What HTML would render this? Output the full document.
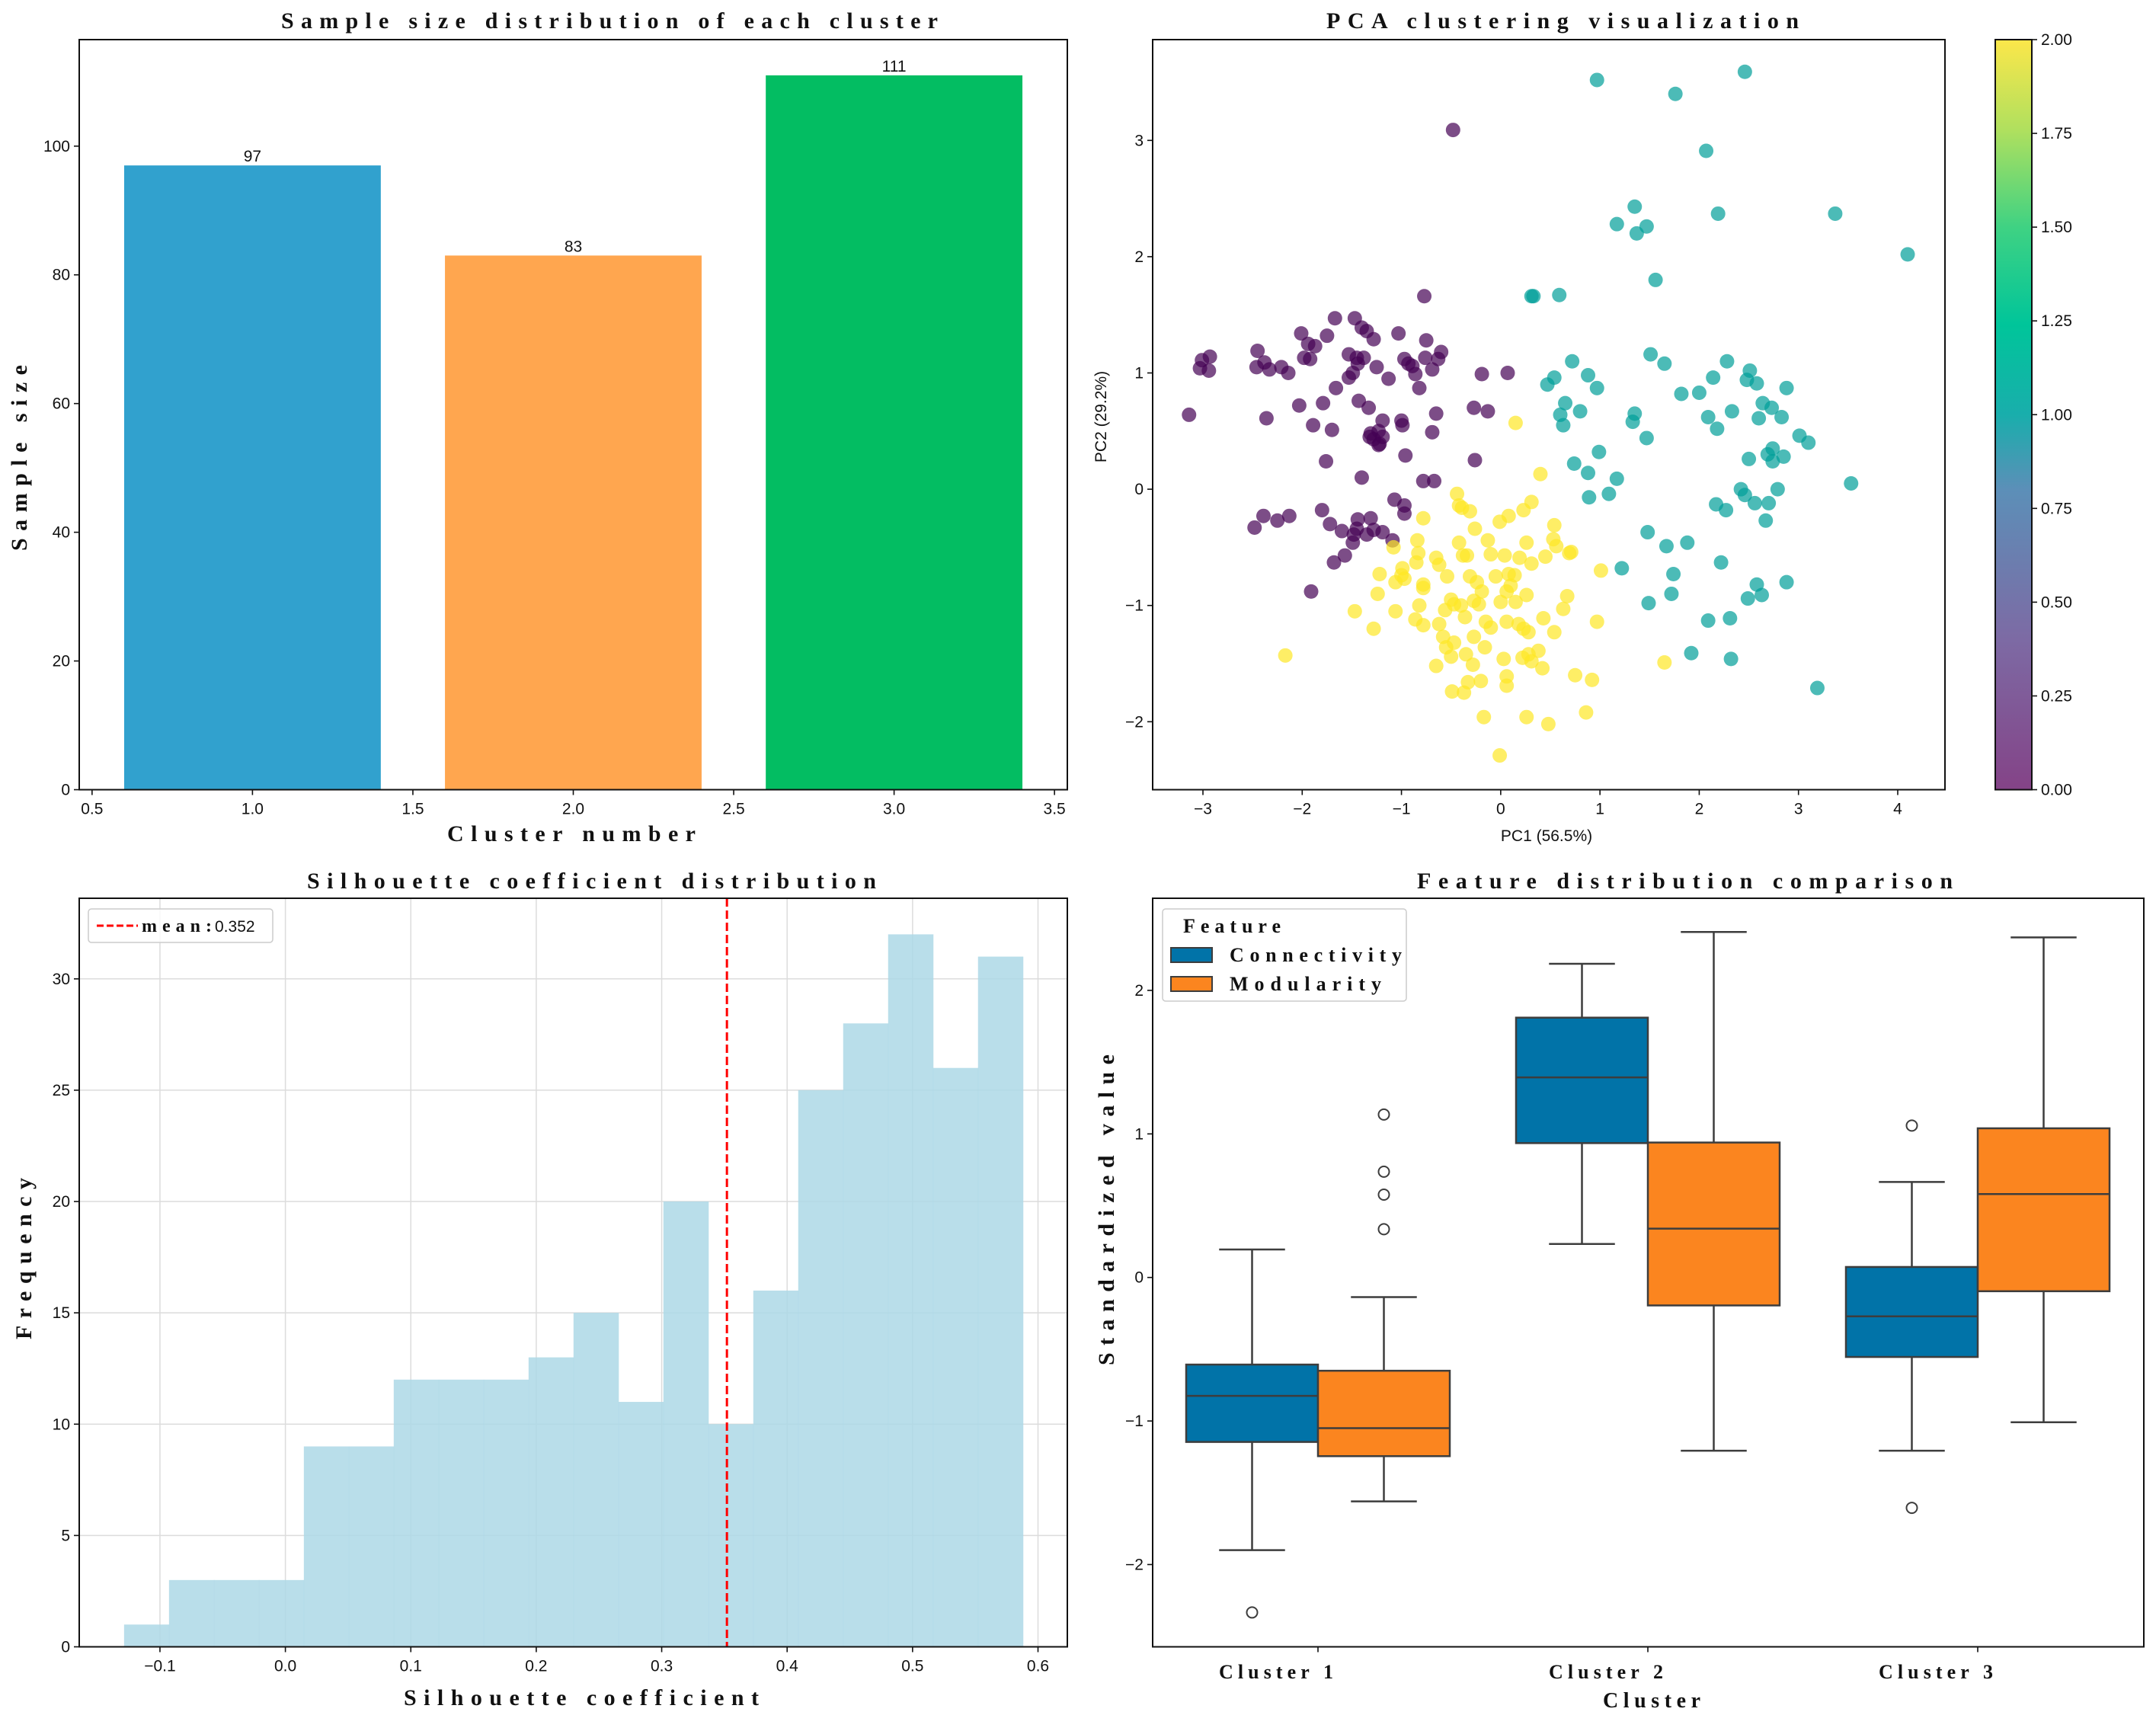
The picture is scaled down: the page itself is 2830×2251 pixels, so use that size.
<!DOCTYPE html>
<html><head><meta charset="utf-8"><style>
html,body{margin:0;padding:0;background:#fff}
svg{display:block;font-family:"Liberation Sans","Noto Sans CJK SC",sans-serif}
.tick{font-size:21px;fill:#111}
.ttl{font-family:"Liberation Serif",serif;font-weight:bold;font-size:30px;fill:#111}
.lbl{font-family:"Liberation Serif",serif;font-weight:bold;font-size:30px;fill:#111}
</style></head><body>
<svg id="fig" width="2830" height="2251" viewBox="0 0 2830 2251" xmlns="http://www.w3.org/2000/svg"></svg>
<script>
// ---------- Panel 1 data ----------
const barCats = [1, 2, 3];
const barVals = [97, 83, 111];
const barColors = ['#31a1ce', '#ffa64f', '#03bd62'];
const p1XTicks = [0.5, 1.0, 1.5, 2.0, 2.5, 3.0, 3.5];
const p1YTicks = [0, 20, 40, 60, 80, 100];
// ---------- Panel 2 data ----------
const c0x = [-0.48,-0.77,-1.67,-1.47,-1.40,-1.35,-1.28,-1.03,-2.01,-1.75,-1.94,-1.87,-2.45,-2.93,-3.01,-3.03,-2.94,-2.38,-2.33,-2.46,-2.21,-2.14,-1.98,-1.92,-1.53,-1.45,-1.38,-1.44,-1.49,-1.53,-1.25,-1.13,-0.97,-0.93,-0.89,-0.86,-0.75,-0.76,-0.69,-0.63,-0.60,-0.82,-1.66,-2.03,-1.79,-1.43,-1.33,-3.14,-2.36,-1.89,-1.70,-1.31,-1.19,-1.23,-1.00,-0.99,-0.65,-0.69,-0.27,-0.13,-0.19,0.07,-0.96,-1.76,-1.40,-0.78,-0.67,-0.26,-1.32,-1.28,-1.22,-1.23,-1.19,-1.07,-0.97,-0.97,-1.80,-1.72,-2.39,-2.25,-2.13,-2.48,-1.60,-1.44,-1.31,-1.45,-1.48,-1.49,-1.35,-1.28,-1.19,-1.09,-1.57,-1.68,-1.91];
const c0y = [3.09,1.66,1.47,1.47,1.39,1.36,1.29,1.34,1.34,1.32,1.25,1.23,1.19,1.14,1.11,1.04,1.02,1.09,1.03,1.05,1.05,1.00,1.13,1.12,1.16,1.13,1.13,1.08,1.00,0.96,1.05,0.95,1.12,1.08,1.06,0.99,1.28,1.13,1.03,1.12,1.18,0.87,0.87,0.72,0.74,0.76,0.70,0.64,0.61,0.55,0.51,0.48,0.59,0.50,0.59,0.55,0.65,0.49,0.70,0.67,0.99,1.00,0.29,0.24,0.10,0.07,0.07,0.25,0.45,0.43,0.39,0.38,0.45,-0.09,-0.14,-0.21,-0.18,-0.30,-0.23,-0.27,-0.23,-0.33,-0.36,-0.26,-0.25,-0.34,-0.39,-0.46,-0.39,-0.35,-0.37,-0.44,-0.57,-0.63,-0.88];
const c1x = [0.97,2.46,1.76,2.07,1.35,1.17,1.37,1.47,2.19,3.37,4.10,1.56,0.33,0.31,0.59,1.51,1.65,2.28,0.72,0.54,0.47,0.88,0.97,2.14,2.51,2.48,2.58,2.88,1.82,2.00,0.65,0.60,0.63,0.80,1.35,1.33,2.09,2.18,2.33,2.64,2.73,2.60,2.83,1.47,3.01,3.10,2.50,2.69,2.74,2.74,2.85,0.99,0.74,0.88,1.17,0.89,1.09,3.53,2.42,2.46,2.79,2.56,2.70,2.17,2.27,2.67,1.48,1.67,1.88,2.22,1.22,1.74,1.72,1.49,2.49,2.63,2.58,2.88,2.09,2.31,1.92,2.32,3.19];
const c1y = [3.52,3.59,3.40,2.91,2.43,2.28,2.20,2.26,2.37,2.37,2.02,1.80,1.66,1.66,1.67,1.16,1.08,1.10,1.10,0.96,0.90,0.98,0.87,0.96,1.02,0.94,0.91,0.87,0.82,0.83,0.74,0.64,0.55,0.67,0.65,0.58,0.62,0.52,0.67,0.74,0.70,0.61,0.62,0.44,0.46,0.40,0.26,0.30,0.35,0.24,0.28,0.32,0.22,0.14,0.09,-0.07,-0.04,0.05,0.00,-0.05,0.00,-0.12,-0.12,-0.13,-0.18,-0.27,-0.37,-0.49,-0.46,-0.63,-0.68,-0.73,-0.90,-0.98,-0.94,-0.91,-0.82,-0.80,-1.13,-1.11,-1.41,-1.46,-1.71];
const c2x = [0.15,0.40,-0.44,-0.42,-0.39,-0.31,0.31,0.23,0.08,-0.01,-0.78,-0.26,0.54,-0.13,-0.42,-0.38,-0.34,0.26,0.53,0.56,0.71,0.69,0.04,0.19,0.31,0.45,-1.08,-0.84,-0.83,-0.85,-1.22,-0.99,-1.00,-1.06,-0.97,-0.78,-0.78,-0.65,-0.62,-0.54,-0.31,-0.24,0.08,0.14,0.10,0.06,-0.19,-0.22,1.01,-1.24,-1.47,-1.06,-0.82,-0.86,-0.78,-0.62,-0.56,-0.50,-0.47,-0.40,-0.27,0.00,0.15,0.26,0.67,0.63,0.43,0.97,-1.28,-0.15,-0.10,0.06,0.18,0.23,0.28,-0.27,0.54,-2.17,-0.55,-0.47,-0.50,-0.35,-0.28,-0.16,0.03,0.22,0.28,0.31,0.38,0.42,-0.65,0.06,0.06,-0.20,-0.33,-0.49,-0.37,0.75,0.92,-0.17,0.26,0.48,0.86,-0.01,1.65,-0.10,-0.05,-0.36,-0.58];
const c2y = [0.57,0.13,-0.04,-0.14,-0.16,-0.19,-0.11,-0.18,-0.23,-0.28,-0.25,-0.34,-0.31,-0.44,-0.46,-0.57,-0.57,-0.46,-0.43,-0.49,-0.54,-0.55,-0.57,-0.59,-0.64,-0.58,-0.50,-0.44,-0.55,-0.63,-0.73,-0.68,-0.74,-0.80,-0.77,-0.82,-0.85,-0.59,-0.65,-0.75,-0.75,-0.80,-0.73,-0.74,-0.83,-0.88,-0.88,-0.99,-0.70,-0.90,-1.05,-1.05,-1.00,-1.12,-1.17,-1.16,-1.04,-0.95,-0.99,-1.00,-0.96,-0.97,-0.97,-0.91,-0.92,-1.03,-1.11,-1.14,-1.20,-1.14,-1.19,-1.14,-1.16,-1.20,-1.23,-1.27,-1.23,-1.43,-1.36,-1.32,-1.44,-1.42,-1.51,-1.36,-1.46,-1.45,-1.42,-1.48,-1.39,-1.54,-1.52,-1.61,-1.69,-1.65,-1.66,-1.74,-1.75,-1.60,-1.64,-1.96,-1.96,-2.02,-1.92,-2.29,-1.49,-0.56,-0.75,-1.10,-1.27];
const p2XTicks = [-3,-2,-1,0,1,2,3,4];
const p2YTicks = [-2,-1,0,1,2,3];
const cbTicks = [0,0.25,0.5,0.75,1,1.25,1.5,1.75,2];
const cbLabels = ['0.00','0.25','0.50','0.75','1.00','1.25','1.50','1.75','2.00'];
// ---------- Panel 3 data ----------
const histStart = -0.1286;
const histBinWidth = 0.03583;
const histCounts = [1,3,3,3,9,9,12,12,12,13,15,11,20,10,16,25,28,32,26,31];
const meanVal = 0.352;
const p3XTicks = [-0.1,0.0,0.1,0.2,0.3,0.4,0.5,0.6];
const p3XLabels = ['\u22120.1','0.0','0.1','0.2','0.3','0.4','0.5','0.6'];
const p3YTicks = [0,5,10,15,20,25,30];
// ---------- Panel 4 data ----------
const boxCats = ['Cluster 1','Cluster 2','Cluster 3'];
const connStats = [[-1.90,-1.146,-0.825,-0.607,0.195],[0.233,0.936,1.394,1.81,2.185],[-1.207,-0.554,-0.271,0.073,0.665]];
const modStats = [[-1.56,-1.245,-1.05,-0.65,-0.137],[-1.207,-0.195,0.34,0.94,2.407],[-1.009,-0.096,0.581,1.039,2.369]];
const connOutliers = [[-2.334],[],[1.058,-1.605]];
const modOutliers = [[1.135,0.737,0.577,0.336],[],[]];
const p4YTicks = [-2,-1,0,1,2];
const p4YLabels = ['\u22122','\u22121','0','1','2'];

const NS='http://www.w3.org/2000/svg';
const svg=document.getElementById('fig');
function mk(tag,attrs,parent){const e=document.createElementNS(NS,tag);for(const k in attrs)e.setAttribute(k,attrs[k]);(parent||svg).appendChild(e);return e;}
function txt(s,attrs,parent){const e=mk('text',attrs,parent);e.textContent=s;return e;}
function lin(d0,d1,r0,r1){return v=>r0+(v-d0)*(r1-r0)/(d1-d0);}
function fmtMinus(v){return String(v).replace('-','\u2212');}

// ================= PANEL 1 =================
(function(){
  const L=104,R=1401,T=52,B=1036.5;
  const g=mk('g',{});
  
  
  const x=lin(0.46,3.54,L,R), y=lin(0,116.55,B,T);
  barVals.forEach((v,i)=>{
    const r=mk('rect',{x:x(barCats[i]-0.4),y:y(v),width:x(barCats[i]+0.4)-x(barCats[i]-0.4),height:y(0)-y(v),fill:barColors[i]},g);
    
    
    const t=txt(String(v),{x:x(barCats[i]),y:y(v)-5,'text-anchor':'middle',class:'tick'},g);
    
    
  });
  p1XTicks.forEach(v=>{mk('line',{x1:x(v),x2:x(v),y1:B,y2:B+7,stroke:'#111','stroke-width':1.6},g);
    const t=txt(v.toFixed(1),{x:x(v),y:B+32,'text-anchor':'middle',class:'tick'},g);
    });
  p1YTicks.forEach(v=>{mk('line',{x1:L-7,x2:L,y1:y(v),y2:y(v),stroke:'#111','stroke-width':1.6},g);
    const t=txt(String(v),{x:L-12,y:y(v)+7,'text-anchor':'end',class:'tick'},g);
    });
  const fr=mk('rect',{x:L,y:T,width:R-L,height:B-T,fill:'none',stroke:'#111','stroke-width':2},g);
  
  const tt=txt('Sample size distribution of each cluster',{x:369,y:37,class:'ttl',textLength:862,lengthAdjust:'spacing'},g);
  
  const xl=txt('Cluster number',{x:587,y:1104,class:'lbl',textLength:326,lengthAdjust:'spacing'},g);
  
  const yl=txt('Sample size',{x:0,y:0,class:'lbl',textLength:244,lengthAdjust:'spacing',transform:'translate(35,723) rotate(-90)'},g);
  
})();

// ================= PANEL 2 =================
(function(){
  const L=1513,R=2553,T=52,B=1036.5;
  const g=mk('g',{});
  
  
  const x=lin(-3,4,1579,2491), y=lin(-2,3,947.3,184.3);
  const sets=[[c0x,c0y,'#440154'],[c1x,c1y,'#009e98'],[c2x,c2y,'#fde725']];
  sets.forEach((s,k)=>{
    s[0].forEach((vx,i)=>{
      const c=mk('circle',{cx:x(vx),cy:y(s[1][i]),r:9.5,fill:s[2],'fill-opacity':0.7},g);
      
      
    });
  });
  p2XTicks.forEach(v=>{mk('line',{x1:x(v),x2:x(v),y1:B,y2:B+7,stroke:'#111','stroke-width':1.6},g);
    const t=txt(fmtMinus(v),{x:x(v),y:B+32,'text-anchor':'middle',class:'tick'},g);
    });
  p2YTicks.forEach(v=>{mk('line',{x1:L-7,x2:L,y1:y(v),y2:y(v),stroke:'#111','stroke-width':1.6},g);
    const t=txt(fmtMinus(v),{x:L-12,y:y(v)+7,'text-anchor':'end',class:'tick'},g);
    });
  const fr=mk('rect',{x:L,y:T,width:R-L,height:B-T,fill:'none',stroke:'#111','stroke-width':2},g);
  
  const tt=txt('PCA clustering visualization',{x:1741,y:37,class:'ttl',textLength:620,lengthAdjust:'spacing'},g);
  
  const xl=txt('PC1 (56.5%)',{x:2030,y:1104,'text-anchor':'middle',class:'tick'},g);
  
  const yl=txt('PC2 (29.2%)',{x:0,y:0,'text-anchor':'middle',class:'tick',transform:'translate(1452,547) rotate(-90)'},g);
  
  const defs=mk('defs',{},g);
  const lg=mk('linearGradient',{id:'cbg',x1:0,y1:1,x2:0,y2:0},defs);
  [['0','#844387'],['0.2','#7d6aa4'],['0.4','#5c8fb8'],['0.5','#19aeac'],['0.62','#00c59a'],['0.75','#3fd283'],['0.88','#b0e05e'],['1','#fce74a']].forEach(s=>mk('stop',{offset:s[0],'stop-color':s[1]},lg));
  const cL=2619,cR=2667;
  const cb=mk('rect',{x:cL,y:T,width:cR-cL,height:B-T,fill:'url(#cbg)',stroke:'#111','stroke-width':2},g);
  
  const cy=lin(0,2,B,T);
  cbTicks.forEach((v,i)=>{mk('line',{x1:cR,x2:cR+7,y1:cy(v),y2:cy(v),stroke:'#111','stroke-width':1.6},g);
    const t=txt(cbLabels[i],{x:cR+12,y:cy(v)+7,class:'tick'},g);
    });
})();

// ================= PANEL 3 =================
(function(){
  const L=104,R=1401,T=1179,B=2161.5;
  const g=mk('g',{});
  
  
  const x=lin(0,0.6,374.6,1362.5), y=lin(0,30,B,1284.8);
  p3XTicks.forEach(v=>mk('line',{x1:x(v),x2:x(v),y1:T,y2:B,stroke:'#dcdcdc','stroke-width':1.5},g));
  p3YTicks.forEach(v=>mk('line',{x1:L,x2:R,y1:y(v),y2:y(v),stroke:'#dcdcdc','stroke-width':1.5},g));
  histCounts.forEach((c,i)=>{
    const x0=histStart+i*histBinWidth;
    const r=mk('rect',{x:x(x0),y:y(c),width:x(x0+histBinWidth)-x(x0)+0.5,height:y(0)-y(c),fill:'#add8e6','fill-opacity':0.85},g);
    
    
  });
  const ml=mk('line',{x1:x(meanVal),x2:x(meanVal),y1:T,y2:B,stroke:'#ff0000','stroke-width':3,'stroke-dasharray':'11,5'},g);
  
  p3XTicks.forEach((v,i)=>{mk('line',{x1:x(v),x2:x(v),y1:B,y2:B+7,stroke:'#111','stroke-width':1.6},g);
    const t=txt(p3XLabels[i],{x:x(v),y:B+32,'text-anchor':'middle',class:'tick'},g);
    });
  p3YTicks.forEach(v=>{mk('line',{x1:L-7,x2:L,y1:y(v),y2:y(v),stroke:'#111','stroke-width':1.6},g);
    const t=txt(String(v),{x:L-12,y:y(v)+7,'text-anchor':'end',class:'tick'},g);
    });
  const fr=mk('rect',{x:L,y:T,width:R-L,height:B-T,fill:'none',stroke:'#111','stroke-width':2},g);
  
  const leg=mk('g',{},g);
  
  mk('rect',{x:116,y:1193,width:242,height:44,rx:4,fill:'#fff','fill-opacity':0.8,stroke:'#ccc','stroke-width':1.5},leg);
  mk('line',{x1:127,x2:181,y1:1215,y2:1215,stroke:'#ff0000','stroke-width':3,'stroke-dasharray':'9,4'},leg);
  txt('mean:',{x:186,y:1223,class:'lbl',style:'font-size:24px',textLength:92,lengthAdjust:'spacing'},leg);
  txt('0.352',{x:282,y:1223,class:'tick'},leg);
  const tt=txt('Silhouette coefficient distribution',{x:403,y:1166,class:'ttl',textLength:747,lengthAdjust:'spacing'},g);
  
  const xl=txt('Silhouette coefficient',{x:530,y:2238,class:'lbl',textLength:466,lengthAdjust:'spacing'},g);
  
  const yl=txt('Frequency',{x:0,y:0,class:'lbl',textLength:212,lengthAdjust:'spacing',transform:'translate(41,1758) rotate(-90)'},g);
  
})();

// ================= PANEL 4 =================
(function(){
  const L=1513,R=2814,T=1179,B=2161.5;
  const g=mk('g',{});
  
  
  const y=lin(-2,2,2053.5,1299.9);
  const cx=i=>1730+i*433;
  const bw=173;
  function drawBox(st,xc,color,name){
    const bg=mk('g',{},g);
    
    
    const s={stroke:'#3d3d3d','stroke-width':2.5};
    mk('line',Object.assign({x1:xc,x2:xc,y1:y(st[0]),y2:y(st[1])},s),bg);
    mk('line',Object.assign({x1:xc,x2:xc,y1:y(st[3]),y2:y(st[4])},s),bg);
    mk('line',Object.assign({x1:xc-bw/4,x2:xc+bw/4,y1:y(st[0]),y2:y(st[0])},s),bg);
    mk('line',Object.assign({x1:xc-bw/4,x2:xc+bw/4,y1:y(st[4]),y2:y(st[4])},s),bg);
    mk('rect',Object.assign({x:xc-bw/2,y:y(st[3]),width:bw,height:y(st[1])-y(st[3]),fill:color},s),bg);
    mk('line',Object.assign({x1:xc-bw/2,x2:xc+bw/2,y1:y(st[2]),y2:y(st[2])},s),bg);
  }
  boxCats.forEach((c,i)=>{
    drawBox(connStats[i],cx(i)-bw/2,'#0173a8','box-connectivity-'+(i+1));
    drawBox(modStats[i],cx(i)+bw/2,'#fb851f','box-modularity-'+(i+1));
    connOutliers[i].forEach(v=>{const o=mk('circle',{cx:cx(i)-bw/2,cy:y(v),r:7,fill:'none',stroke:'#3d3d3d','stroke-width':2},g);
      });
    modOutliers[i].forEach(v=>{const o=mk('circle',{cx:cx(i)+bw/2,cy:y(v),r:7,fill:'none',stroke:'#3d3d3d','stroke-width':2},g);
      });
    mk('line',{x1:cx(i),x2:cx(i),y1:B,y2:B+7,stroke:'#111','stroke-width':1.6},g);
    const t=txt(c,{x:cx(i)-55,y:2203,'text-anchor':'middle',class:'lbl',style:'font-size:26px',textLength:150,lengthAdjust:'spacing'},g);
    
  });
  p4YTicks.forEach((v,i)=>{mk('line',{x1:L-7,x2:L,y1:y(v),y2:y(v),stroke:'#111','stroke-width':1.6},g);
    const t=txt(p4YLabels[i],{x:L-12,y:y(v)+7,'text-anchor':'end',class:'tick'},g);
    });
  const fr=mk('rect',{x:L,y:T,width:R-L,height:B-T,fill:'none',stroke:'#111','stroke-width':2},g);
  
  const leg=mk('g',{},g);
  
  mk('rect',{x:1526,y:1193,width:320,height:121,rx:4,fill:'#fff','fill-opacity':0.8,stroke:'#ccc','stroke-width':1.5},leg);
  txt('Feature',{x:1553,y:1224,class:'lbl',style:'font-size:26px',textLength:128,lengthAdjust:'spacing'},leg);
  mk('rect',{x:1537,y:1244,width:54,height:19,fill:'#0173a8',stroke:'#3d3d3d','stroke-width':2},leg);
  txt('Connectivity',{x:1614,y:1262,class:'lbl',style:'font-size:26px',textLength:226,lengthAdjust:'spacing'},leg);
  mk('rect',{x:1537,y:1282,width:54,height:19,fill:'#fb851f',stroke:'#3d3d3d','stroke-width':2},leg);
  txt('Modularity',{x:1614,y:1300,class:'lbl',style:'font-size:26px',textLength:199,lengthAdjust:'spacing'},leg);
  const tt=txt('Feature distribution comparison',{x:1860,y:1166,class:'ttl',textLength:703,lengthAdjust:'spacing'},g);
  
  const xl=txt('Cluster',{x:2168,y:2241,'text-anchor':'middle',class:'lbl',style:'font-size:28px',textLength:128,lengthAdjust:'spacing'},g);
  
  const yl=txt('Standardized value',{x:0,y:0,class:'lbl',textLength:408,lengthAdjust:'spacing',transform:'translate(1462,1792) rotate(-90)'},g);
  
})();
</script>
</body></html>
